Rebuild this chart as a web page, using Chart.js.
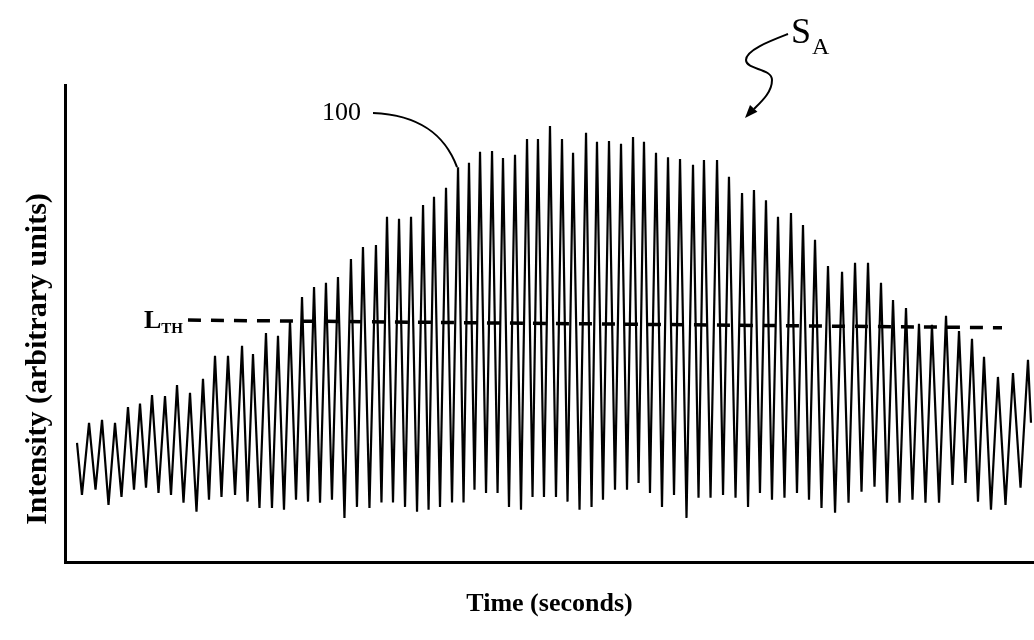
<!DOCTYPE html>
<html><head><meta charset="utf-8">
<script src="https://cdn.jsdelivr.net/npm/chart.js@4/dist/chart.umd.min.js"></script>
<style>html,body{margin:0;padding:0;background:#fff;}#wrap{width:1034px;height:640px;}</style>
</head><body><div id="wrap"><canvas id="c" width="1034" height="640"></canvas></div>
<script>
// ---- data (time in s, intensity in arbitrary units) ----
const startPoint = [1.24, 25.1];
const endPoint = [99.69, 29.3];
const peakTimes = [2.48,3.82,5.16,6.50,7.74,8.98,10.32,11.56,12.90,14.24,15.48,16.82,18.27,19.40,20.74,21.98,23.22,24.46,25.70,26.93,28.17,29.51,30.75,32.09,33.23,34.47,35.71,36.95,38.08,39.32,40.56,41.69,42.83,44.07,45.20,46.44,47.68,48.81,50.05,51.29,52.43,53.77,54.90,56.14,57.38,58.62,59.75,60.99,62.23,63.47,64.81,65.94,67.29,68.52,69.87,71.10,72.34,73.58,74.92,76.16,77.40,78.74,80.19,81.53,82.87,84.21,85.45,86.79,88.13,89.47,90.92,92.26,93.60,94.84,96.28,97.83,99.38];
const peakValues = [29.3,29.9,29.3,32.6,33.3,35.1,34.9,37.2,35.6,38.5,43.3,43.3,45.4,43.7,48.1,47.5,50.8,55.6,57.7,58.6,59.8,63.6,66.1,66.5,72.4,72.0,72.4,74.9,76.6,78.5,82.8,83.7,86.0,86.2,84.7,85.4,88.7,88.7,91.4,88.7,85.8,90.0,88.1,88.3,87.7,89.1,88.1,85.8,84.9,84.5,83.3,84.3,84.3,80.8,77.4,78.0,75.9,72.4,73.2,70.7,67.6,62.1,60.9,62.8,62.8,58.6,55.0,53.3,50.0,49.8,51.7,48.5,46.9,43.1,38.9,39.7,42.5];
const troughTimes = [1.75,3.15,4.49,5.83,7.12,8.36,9.65,10.94,12.23,13.57,14.86,16.15,17.55,18.84,20.07,21.36,22.60,23.84,25.08,26.32,27.55,28.84,30.13,31.42,32.66,33.85,35.09,36.33,37.52,38.70,39.94,41.13,42.26,43.45,44.64,45.82,47.06,48.25,49.43,50.67,51.86,53.10,54.34,55.52,56.76,58.00,59.19,60.37,61.61,62.85,64.14,65.38,66.62,67.91,69.20,70.49,71.72,72.96,74.25,75.54,76.78,78.07,79.47,80.86,82.20,83.54,84.83,86.12,87.46,88.80,90.20,91.59,92.93,94.22,95.56,97.06,98.61];
const troughValues = [14.2,15.3,12.1,13.8,15.3,15.7,14.6,14.2,12.6,10.7,13.2,13.8,14.2,12.8,11.5,11.5,11.1,13.2,12.8,12.6,13.2,9.4,11.7,11.5,12.6,12.6,11.7,10.7,11.1,11.7,12.6,12.6,15.3,14.6,14.6,11.7,11.1,13.8,13.8,13.8,12.8,11.1,11.7,13.2,15.3,15.3,16.7,14.6,11.7,14.2,9.4,13.6,13.6,14.2,13.6,11.7,14.6,13.2,13.6,14.6,13.2,11.5,10.5,12.6,14.9,15.9,12.6,12.6,13.2,12.6,12.6,16.3,16.7,12.8,11.1,12.1,15.7];
const thresholdTimes = [12.69, 96.70];
const thresholdValues = [50.8, 49.2];
const xTitle = 'Time (seconds)';
const yTitle = 'Intensity (arbitrary units)';
const thresholdLabel = ['L', 'TH'];
const curveLabel = '100';
const signalLabel = ['S', 'A'];
const labelledPeak = 30; // index of the peak the "100" leader points to

// ---- build the signal table ----
const signal = [{x: startPoint[0], y: startPoint[1]}];
for (let i = 0; i < peakTimes.length; i++) {
  signal.push({x: troughTimes[i], y: troughValues[i]});
  signal.push({x: peakTimes[i], y: peakValues[i]});
}
signal.push({x: endPoint[0], y: endPoint[1]});
const threshold = thresholdTimes.map((t, i) => ({x: t, y: thresholdValues[i]}));

const SERIF = '"Liberation Serif", "Times New Roman", serif';

const annotations = {
  id: 'annotations',
  afterDraw(chart) {
    const ctx = chart.ctx;
    const xs = chart.scales.x, ys = chart.scales.y;
    ctx.save();
    ctx.fillStyle = '#000';
    ctx.strokeStyle = '#000';
    // y axis title
    ctx.save();
    ctx.translate(38, 359);
    ctx.rotate(-Math.PI / 2);
    ctx.font = 'bold 30px ' + SERIF;
    ctx.textAlign = 'center';
    ctx.textBaseline = 'middle';
    ctx.fillText(yTitle, 0, 0);
    ctx.restore();

    // L_TH label, right-aligned just before the dashed line
    const thx = xs.getPixelForValue(thresholdTimes[0]);
    const thy = ys.getPixelForValue(thresholdValues[0]);
    ctx.font = 'bold 26px ' + SERIF;
    const wL = ctx.measureText(thresholdLabel[0]).width;
    ctx.font = 'bold 15px ' + SERIF;
    const wT = ctx.measureText(thresholdLabel[1]).width;
    const lx = thx - 5 - wT - wL;
    ctx.textBaseline = 'alphabetic';
    ctx.textAlign = 'left';
    ctx.font = 'bold 26px ' + SERIF;
    ctx.fillText(thresholdLabel[0], lx, thy + 8);
    ctx.font = 'bold 15px ' + SERIF;
    ctx.fillText(thresholdLabel[1], lx + wL, thy + 13);

    // "100" label with leader to a peak
    ctx.font = '26px ' + SERIF;
    ctx.fillText(curveLabel, 322, 120);
    const px = xs.getPixelForValue(peakTimes[labelledPeak]);
    const py = ys.getPixelForValue(peakValues[labelledPeak]);
    ctx.lineWidth = 2;
    ctx.beginPath();
    ctx.moveTo(373, 113);
    ctx.bezierCurveTo(420, 115, 445, 135, px - 1, py);
    ctx.stroke();

    // S_A label with wavy arrow
    ctx.font = '36px ' + SERIF;
    ctx.fillText(signalLabel[0], 791, 43);
    ctx.font = '24px ' + SERIF;
    ctx.fillText(signalLabel[1], 812, 54);
    ctx.lineWidth = 2;
    ctx.beginPath();
    ctx.moveTo(788, 34);
    ctx.bezierCurveTo(770, 41, 746, 50, 746, 60);
    ctx.bezierCurveTo(746, 70, 772, 68, 772, 80);
    ctx.bezierCurveTo(772, 92, 762, 101, 754, 109);
    ctx.stroke();
    const tip = [745, 118];
    const d = [-0.67, 0.74];
    const back = [tip[0] - 13 * d[0], tip[1] - 13 * d[1]];
    const pp = [d[1], -d[0]];
    ctx.beginPath();
    ctx.moveTo(tip[0], tip[1]);
    ctx.lineTo(back[0] + 5 * pp[0], back[1] + 5 * pp[1]);
    ctx.lineTo(back[0] - 5 * pp[0], back[1] - 5 * pp[1]);
    ctx.closePath();
    ctx.fill();
    ctx.restore();
  }
};

new Chart(document.getElementById('c'), {
  type: 'line',
  data: {
    datasets: [
      {label: 'Signal', data: signal, borderColor: '#000', borderWidth: 2.2, pointRadius: 0, tension: 0, fill: false, clip: false},
      {label: 'Threshold', data: threshold, borderColor: '#000', borderWidth: 3.5, borderDash: [13, 10], pointRadius: 0, fill: false, clip: false}
    ]
  },
  options: {
    responsive: false,
    animation: false,
    events: [],
    layout: {padding: {left: 65, top: 85, right: 0, bottom: 20}},
    plugins: {legend: {display: false}, tooltip: {enabled: false}},
    scales: {
      x: {
        type: 'linear', min: 0, max: 100,
        grid: {display: false, drawTicks: false},
        ticks: {display: false},
        border: {display: true, color: '#000', width: 3},
        title: {display: true, text: xTitle, color: '#000', font: {family: SERIF, size: 26, weight: 'bold'}, padding: {top: 26, bottom: 0}}
      },
      y: {
        type: 'linear', min: 0, max: 100,
        grid: {display: false, drawTicks: false},
        ticks: {display: false},
        border: {display: true, color: '#000', width: 3}
      }
    }
  },
  plugins: [annotations]
});
</script>
</body></html>
